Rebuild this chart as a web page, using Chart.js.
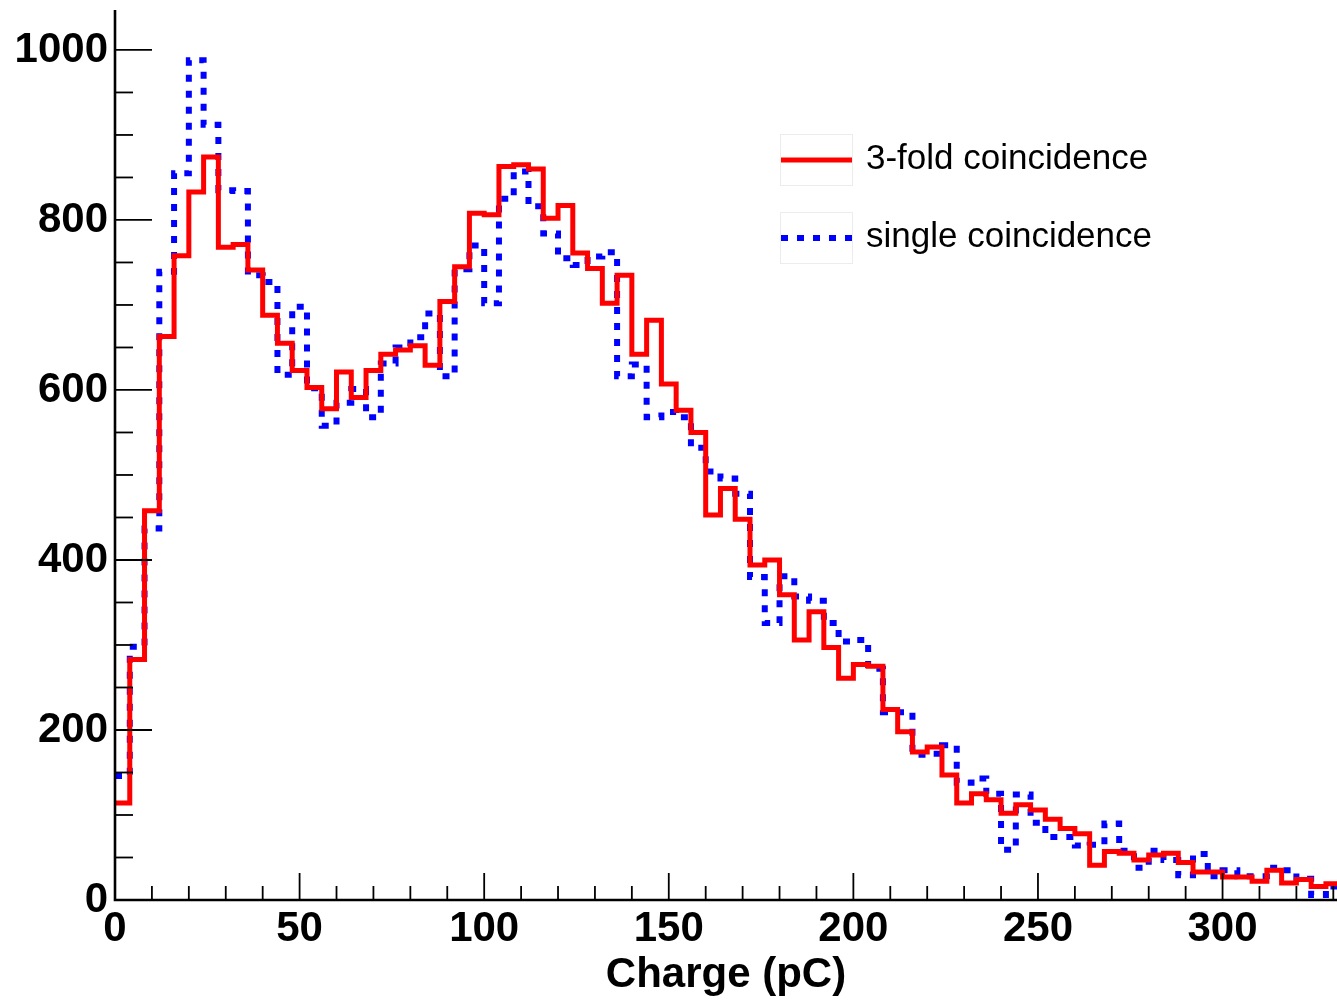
<!DOCTYPE html>
<html>
<head>
<meta charset="utf-8">
<title>Charge spectrum</title>
<script src="https://cdn.jsdelivr.net/npm/chart.js@4.4.1/dist/chart.umd.min.js"></script>
<style>
  html, body { margin: 0; padding: 0; background: #fff; }
  canvas { display: block; }
</style>
</head>
<body>
<canvas id="chargeChart" width="1337" height="1001"></canvas>
<script>
// histogram binning: 4 pC per bin, starting at 0
var binWidth = 4;

// counts per bin
var threeFold = [114, 283, 458, 663, 758, 833, 874, 768, 771, 741,
  688, 655, 623, 603, 578, 621, 591, 623, 642, 647,
  652, 629, 704, 745, 808, 806, 863, 865, 860, 802,
  817, 761, 743, 702, 735, 642, 682, 607, 576, 550,
  453, 484, 448, 394, 400, 359, 306, 339, 297, 261,
  277, 275, 224, 198, 174, 180, 147, 114, 125, 118,
  102, 112, 106, 95, 84, 78, 41, 57, 55, 47,
  53, 55, 44, 33, 33, 27, 27, 22, 35, 20,
  24, 16, 19];

var single = [146, 298, 437, 739, 855, 988, 912, 835, 834, 735,
  727, 618, 698, 602, 558, 585, 601, 568, 631, 650,
  662, 690, 616, 742, 770, 702, 825, 857, 816, 784,
  755, 747, 757, 762, 616, 630, 568, 574, 568, 532,
  504, 496, 478, 380, 326, 381, 357, 352, 326, 304,
  306, 272, 221, 221, 171, 172, 182, 138, 143, 125,
  59, 124, 91, 74, 74, 64, 65, 90, 58, 38,
  58, 47, 29, 54, 28, 35, 28, 28, 38, 35,
  25, 6, 16];

var xMax = 331;
var yMax = 1047;
var labelFont = { family: 'Liberation Sans', weight: 'bold', size: 42 };

// step points at the low edge of every bin, plus the closing edge
function toSteps(counts) {
  var pts = counts.map(function (c, i) { return { x: i * binWidth, y: c }; });
  pts.push({ x: counts.length * binWidth, y: counts[counts.length - 1] });
  return pts;
}

// keep the plot frame exactly where the reference has it
function noPad(s) {
  s.paddingTop = 0; s.paddingBottom = 0;
  s.paddingLeft = 0; s.paddingRight = 0;
}

// ROOT-like axes: ticks inside the frame, only left and bottom lines
var rootAxes = {
  id: 'rootAxes',
  afterDatasetsDraw: function (chart) {
    var ctx = chart.ctx, a = chart.chartArea;
    var xs = chart.scales.x, ys = chart.scales.y;
    ctx.save();
    ctx.strokeStyle = '#000';
    ctx.lineWidth = 1.8;
    for (var v = 0; v <= yMax; v += 50) {
      var py = ys.getPixelForValue(v);
      var len = (v % 200 === 0) ? 37 : 18;
      ctx.beginPath();
      ctx.moveTo(a.left, py);
      ctx.lineTo(a.left + len, py);
      ctx.stroke();
    }
    for (var u = 0; u <= xMax; u += 10) {
      var px = xs.getPixelForValue(u);
      var tl = (u % 50 === 0) ? 27 : 14;
      ctx.beginPath();
      ctx.moveTo(px, a.bottom);
      ctx.lineTo(px, a.bottom - tl);
      ctx.stroke();
    }
    ctx.lineWidth = 2.6;
    ctx.beginPath();
    ctx.moveTo(a.left, a.top);
    ctx.lineTo(a.left, a.bottom);
    ctx.lineTo(a.right, a.bottom);
    ctx.stroke();
    ctx.restore();
  },
  afterDraw: function (chart) {
    var ctx = chart.ctx;
    var rows = [158, 236];
    ctx.save();
    chart.data.datasets.forEach(function (ds, i) {
      var cy = rows[i];
      ctx.strokeStyle = '#ececec';
      ctx.lineWidth = 1;
      ctx.setLineDash([]);
      ctx.strokeRect(780.5, cy - 23.5, 72, 51);
      ctx.strokeStyle = ds.borderColor;
      ctx.lineWidth = ds.borderWidth;
      ctx.setLineDash(ds.borderDash || []);
      ctx.beginPath();
      ctx.moveTo(781, cy + 2);
      ctx.lineTo(852, cy + 2);
      ctx.stroke();
      ctx.setLineDash([]);
      ctx.fillStyle = '#000';
      ctx.font = '35px "Liberation Sans"';
      ctx.textBaseline = 'alphabetic';
      ctx.fillText(ds.label, 866, cy + 11);
    });
    ctx.restore();
  }
};

new Chart(document.getElementById('chargeChart'), {
  type: 'line',
  data: {
    datasets: [{
      label: '3-fold coincidence',
      data: toSteps(threeFold),
      borderColor: '#ff0000',
      borderWidth: 5,
      stepped: 'before',
      pointRadius: 0,
      fill: false
    }, {
      label: 'single coincidence',
      data: toSteps(single),
      borderColor: '#0000ff',
      borderWidth: 6,
      borderDash: [7, 9],
      stepped: 'before',
      pointRadius: 0,
      fill: false
    }]
  },
  options: {
    responsive: false,
    animation: false,
    devicePixelRatio: 1,
    layout: { padding: { top: 10, right: 0, left: 0, bottom: 0 } },
    plugins: {
      legend: { display: false },
      tooltip: { enabled: false }
    },
    scales: {
      x: {
        type: 'linear',
        min: 0,
        max: xMax,
        grid: { display: false, drawTicks: false },
        border: { display: false },
        ticks: {
          stepSize: 50,
          includeBounds: false,
          autoSkip: false,
          maxRotation: 0,
          padding: 4,
          color: '#000',
          font: labelFont,
          callback: function (v) { return String(v); }
        },
        title: {
          display: true,
          text: 'Charge (pC)',
          color: '#000',
          font: labelFont,
          padding: { top: 0, bottom: 0 }
        },
        afterFit: function (s) { s.height = 101; noPad(s); }
      },
      y: {
        type: 'linear',
        min: 0,
        max: yMax,
        grid: { display: false, drawTicks: false },
        border: { display: false },
        ticks: {
          stepSize: 200,
          includeBounds: false,
          padding: 7,
          color: '#000',
          font: labelFont,
          callback: function (v) { return String(v); }
        },
        afterFit: function (s) { s.width = 115; noPad(s); }
      }
    }
  },
  plugins: [rootAxes]
});
</script>
</body>
</html>
